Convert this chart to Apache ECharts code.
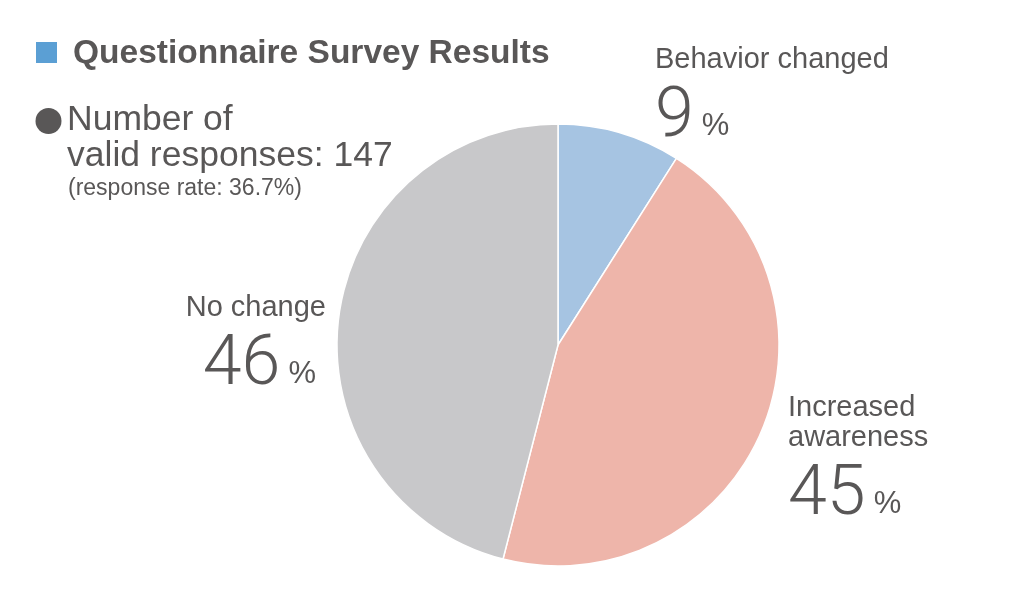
<!DOCTYPE html>
<html>
<head>
<meta charset="utf-8">
<script src="https://cdn.jsdelivr.net/npm/echarts@6/dist/echarts.min.js"></script>
<style>
html,body{margin:0;padding:0;background:#fff;}
#main{width:1013px;height:601px;}
</style>
</head>
<body>
<div id="main"></div>
<script>
// ---- data ----
const categories = ['Behavior changed', 'Increased\nawareness', 'No change'];
const percentValues = [9, 45, 46];
const titleText = 'Questionnaire Survey Results';
const respLine1 = 'Number of';
const respLine2 = 'valid responses: 147';
const respLine3 = '(response rate: 36.7%)';

// ---- styles / layout ----
const sliceColors = ['#a6c4e2', '#eeb5aa', '#c8c8ca'];
const textColor = '#595757';
const FONT = '"Liberation Sans", Arial, Helvetica, sans-serif';
const LIGHT = 'Roboto, "Liberation Sans", sans-serif';
const labelPos = [
  { x: 655, y: 44.5, align: 'left' },
  { x: 788, y: 392.5, align: 'left' },
  { x: 326, y: 292.5, align: 'right' }
];

const chart = echarts.init(document.getElementById('main'), null, { renderer: 'canvas' });

const option = {
  animation: false,
  backgroundColor: '#ffffff',
  textStyle: { fontFamily: FONT },
  graphic: [
    { type: 'rect', shape: { x: 36, y: 42, width: 21, height: 21 }, style: { fill: '#5b9fd4' } },
    { type: 'text', x: 73, y: 53.5, style: { text: titleText, fill: textColor, font: 'bold 33.5px ' + FONT, align: 'left', verticalAlign: 'middle' } },
    { type: 'circle', shape: { cx: 48.5, cy: 121, r: 13 }, style: { fill: textColor } },
    { type: 'text', x: 67, y: 120, style: { text: respLine1, fill: textColor, font: '35.5px ' + FONT, align: 'left', verticalAlign: 'middle' } },
    { type: 'text', x: 67, y: 156, style: { text: respLine2, fill: textColor, font: '35.5px ' + FONT, align: 'left', verticalAlign: 'middle' } },
    { type: 'text', x: 68, y: 189, style: { text: respLine3, fill: textColor, font: '23px ' + FONT, align: 'left', verticalAlign: 'middle' } }
  ],
  series: [{
    type: 'pie',
    center: [558, 345],
    radius: 221,
    startAngle: 90,
    clockwise: true,
    silent: true,
    itemStyle: { borderColor: '#ffffff', borderWidth: 1.5 },
    labelLine: { show: false },
    label: {
      show: true,
      position: 'outside',
      color: textColor,
      fontFamily: FONT,
      formatter: function (p) {
        return '{n|' + p.name + '}\n{v|' + p.value + '}{p|%}';
      },
      rich: {
        n: { fontSize: 29, lineHeight: 30, color: textColor, fontFamily: FONT },
        v: { fontSize: 70, fontWeight: 300, lineHeight: 87, color: textColor, fontFamily: LIGHT },
        p: { fontSize: 31, lineHeight: 40, verticalAlign: 'bottom', color: textColor, fontFamily: FONT, padding: [0, 10, 20, 8] }
      }
    },
    labelLayout: function (params) {
      const lp = labelPos[params.dataIndex];
      return { x: lp.x, y: lp.y, align: lp.align, verticalAlign: 'top', hideOverlap: false, moveOverlap: false };
    },
    data: categories.map(function (c, i) {
      return { name: c, value: percentValues[i], itemStyle: { color: sliceColors[i] } };
    })
  }]
};
chart.setOption(option);
</script>
</body>
</html>
